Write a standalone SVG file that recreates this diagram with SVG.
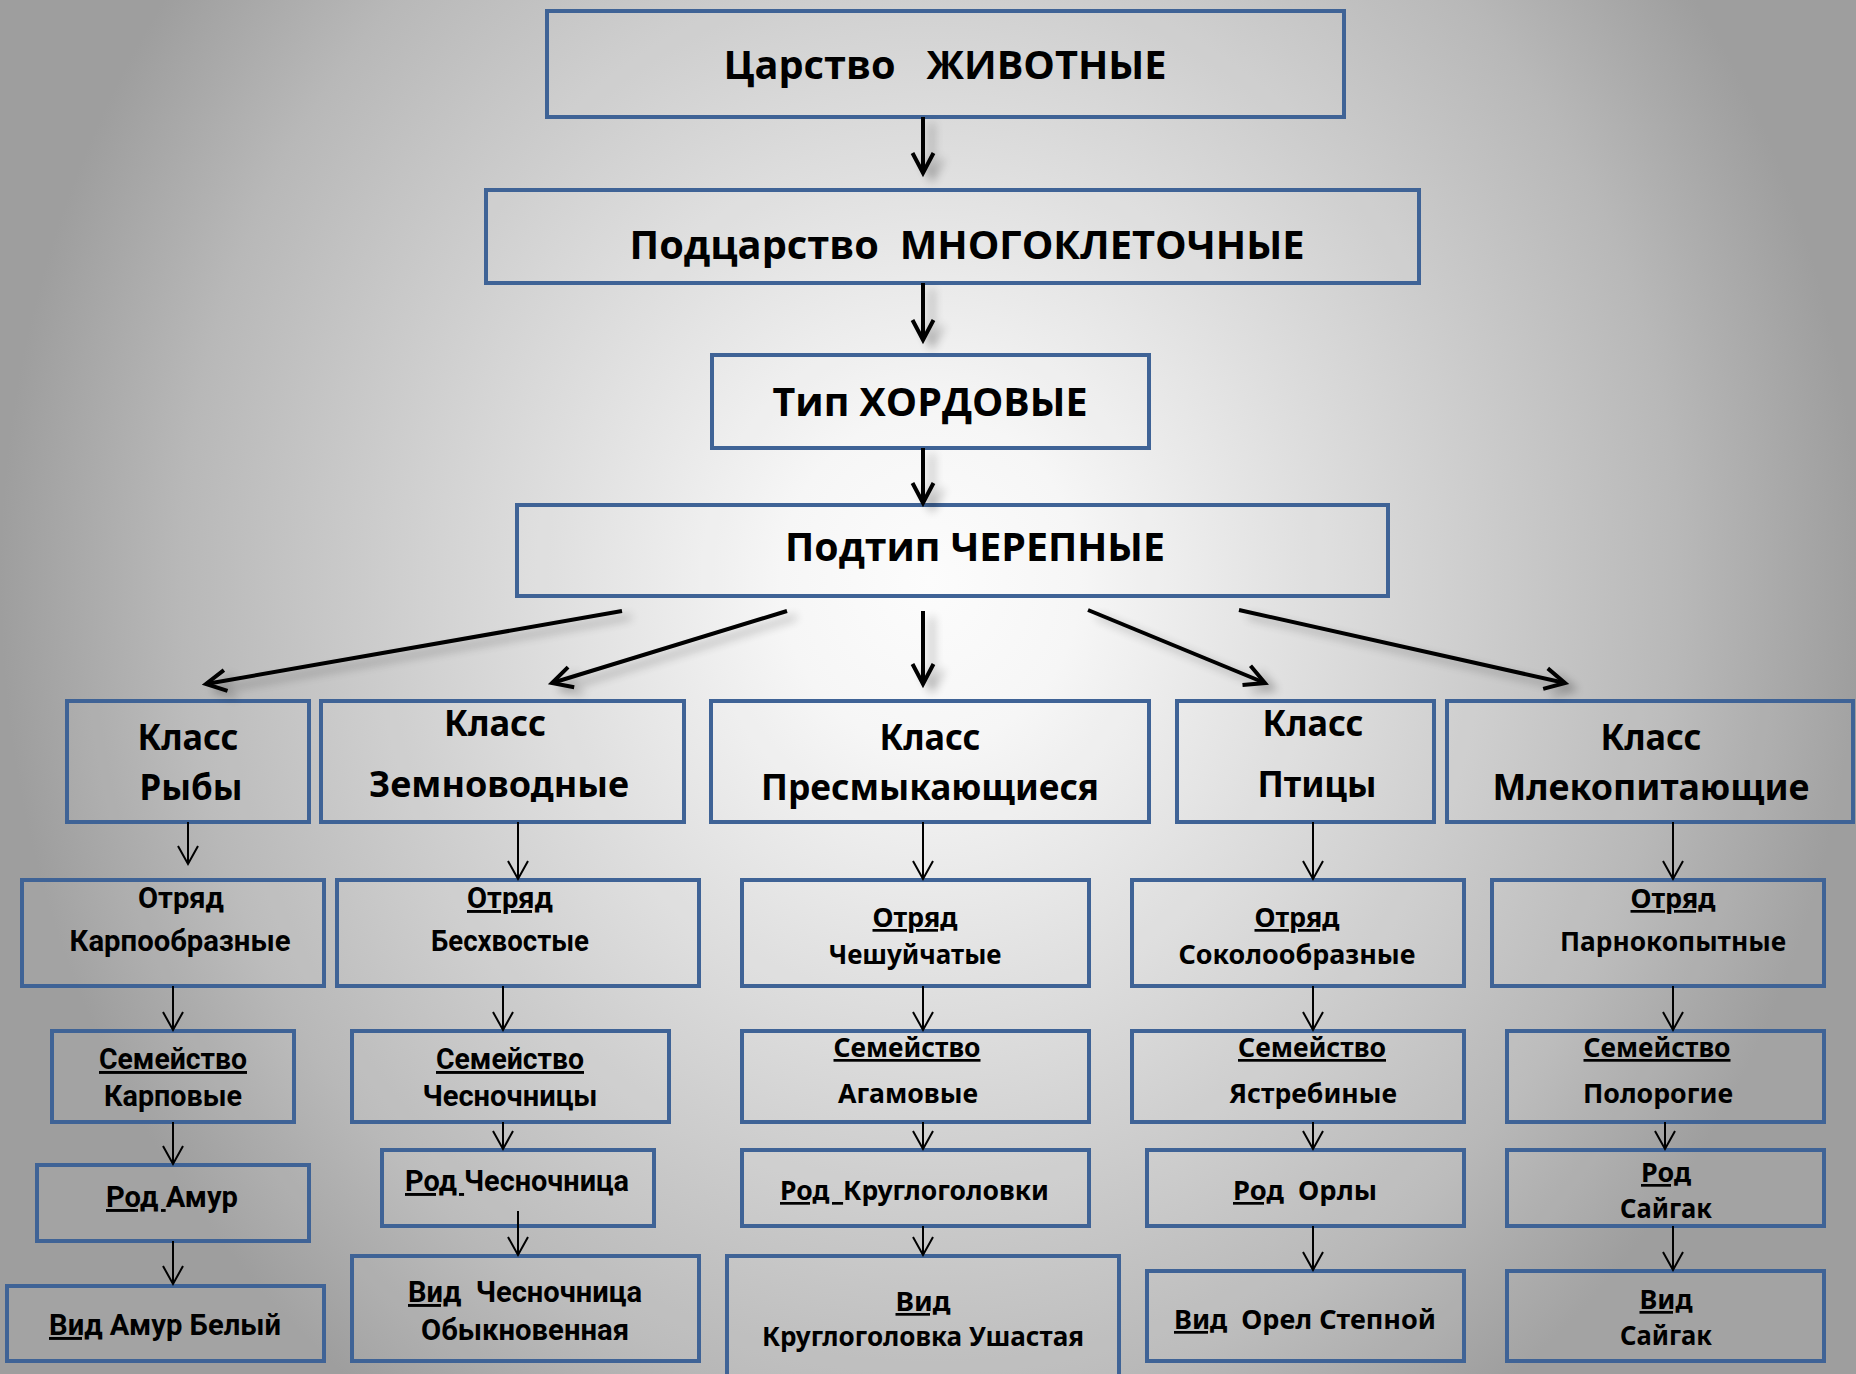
<svg xmlns="http://www.w3.org/2000/svg" width="1856" height="1374" viewBox="0 0 1856 1374">
<defs>
<radialGradient id="bg" gradientUnits="userSpaceOnUse" cx="930" cy="580" r="1000" gradientTransform="translate(930 580) scale(1 1.1) translate(-930 -580)">
<stop offset="0" stop-color="#fcfcfc"/>
<stop offset="0.15" stop-color="#f6f6f6"/>
<stop offset="0.5" stop-color="#d2d2d2"/>
<stop offset="0.75" stop-color="#b8b8b8"/>
<stop offset="0.93" stop-color="#9e9e9e"/>
<stop offset="1" stop-color="#9e9e9e"/>
</radialGradient>
<filter id="sh" filterUnits="userSpaceOnUse" x="0" y="0" width="1856" height="1374">
<feGaussianBlur in="SourceAlpha" stdDeviation="5"/>
<feOffset dx="9" dy="6"/>
<feComponentTransfer><feFuncA type="linear" slope="0.3"/></feComponentTransfer>
<feMerge><feMergeNode/><feMergeNode in="SourceGraphic"/></feMerge>
</filter>
<marker id="ahb" markerUnits="userSpaceOnUse" viewBox="-26 -16 32 32" refX="0" refY="0" markerWidth="32" markerHeight="32" orient="auto" overflow="visible">
<path d="M-20,-10.5 L0,0 L-20,10.5" fill="none" stroke="#000" stroke-width="4"/>
</marker>
<marker id="aht" markerUnits="userSpaceOnUse" viewBox="-22 -14 28 28" refX="0" refY="0" markerWidth="28" markerHeight="28" orient="auto" overflow="visible">
<path d="M-18,-10 L0,0 L-18,10" fill="none" stroke="#000" stroke-width="2"/>
</marker>
</defs>
<style>
.box{fill:#ffffff;fill-opacity:0.06;stroke:#3f6396;stroke-width:4}
text{fill:#000;text-anchor:middle;font-weight:700}
.t1{font-family:"Open Sans","Noto Sans",sans-serif;font-size:39px}
.t2{font-family:"Noto Sans","DejaVu Sans",sans-serif;font-size:36px}
.t3{font-family:Roboto,"Open Sans",sans-serif;font-size:29px}
.t4{font-family:"Noto Sans","DejaVu Sans",sans-serif;font-size:27px}
.s{text-anchor:start}
.u{text-decoration:underline}
.thick{fill:none;stroke:#000;stroke-width:4;marker-end:url(#ahb)}
.thin{fill:none;stroke:#000;stroke-width:2;marker-end:url(#aht)}
</style>
<rect x="0" y="0" width="1856" height="1374" fill="url(#bg)"/>

<g id="kingdom"><rect class="box" x="547" y="11" width="797" height="106"/>
<text class="t1" x="945" y="79" textLength="443" lengthAdjust="spacingAndGlyphs" xml:space="preserve">Царство   ЖИВОТНЫЕ</text></g>
<g id="subkingdom"><rect class="box" x="486" y="190" width="933" height="93"/>
<text class="t1" x="967" y="259" textLength="675" lengthAdjust="spacingAndGlyphs" xml:space="preserve">Подцарство  МНОГОКЛЕТОЧНЫЕ</text></g>
<g id="phylum"><rect class="box" x="712" y="355" width="437" height="93"/>
<text class="t1" x="930" y="416" textLength="315" lengthAdjust="spacingAndGlyphs">Тип ХОРДОВЫЕ</text></g>
<g id="subphylum"><rect class="box" x="517" y="505" width="871" height="91"/>
<text class="t1" x="975" y="561" textLength="380" lengthAdjust="spacingAndGlyphs">Подтип ЧЕРЕПНЫЕ</text></g>

<g id="class-fish"><rect class="box" x="67" y="701" width="242" height="121"/>
<text class="t2" x="188" y="750" textLength="101" lengthAdjust="spacingAndGlyphs">Класс</text>
<text class="t2" x="191" y="800" textLength="103" lengthAdjust="spacingAndGlyphs">Рыбы</text></g>
<g id="class-amphibians"><rect class="box" x="321" y="701" width="363" height="121"/>
<text class="t2" x="495" y="736" textLength="102" lengthAdjust="spacingAndGlyphs">Класс</text>
<text class="t2" x="499" y="797" textLength="260" lengthAdjust="spacingAndGlyphs">Земноводные</text></g>
<g id="class-reptiles"><rect class="box" x="711" y="701" width="438" height="121"/>
<text class="t2" x="930" y="750" textLength="101" lengthAdjust="spacingAndGlyphs">Класс</text>
<text class="t2" x="930" y="800" textLength="338" lengthAdjust="spacingAndGlyphs">Пресмыкающиеся</text></g>
<g id="class-birds"><rect class="box" x="1177" y="701" width="257" height="121"/>
<text class="t2" x="1313" y="736" textLength="101" lengthAdjust="spacingAndGlyphs">Класс</text>
<text class="t2" x="1317" y="797" textLength="119" lengthAdjust="spacingAndGlyphs">Птицы</text></g>
<g id="class-mammals"><rect class="box" x="1447" y="701" width="406" height="121"/>
<text class="t2" x="1651" y="750" textLength="101" lengthAdjust="spacingAndGlyphs">Класс</text>
<text class="t2" x="1651" y="800" textLength="317" lengthAdjust="spacingAndGlyphs">Млекопитающие</text></g>

<g id="order-fish"><rect class="box" x="22" y="880" width="302" height="106"/>
<text class="t3" x="181" y="908" textLength="86" lengthAdjust="spacingAndGlyphs">Отряд</text>
<text class="t3" x="180" y="951" textLength="221" lengthAdjust="spacingAndGlyphs">Карпообразные</text></g>
<g id="order-amphibians"><rect class="box" x="337" y="880" width="362" height="106"/>
<text class="t3" x="510" y="908" textLength="86" lengthAdjust="spacingAndGlyphs"><tspan class="u">Отряд</tspan></text>
<text class="t3" x="510" y="951" textLength="158" lengthAdjust="spacingAndGlyphs">Бесхвостые</text></g>
<g id="order-reptiles"><rect class="box" x="742" y="880" width="347" height="106"/>
<text class="t4" x="915" y="927" textLength="85" lengthAdjust="spacingAndGlyphs"><tspan class="u">Отряд</tspan></text>
<text class="t4" x="915" y="964" textLength="173" lengthAdjust="spacingAndGlyphs">Чешуйчатые</text></g>
<g id="order-birds"><rect class="box" x="1132" y="880" width="332" height="106"/>
<text class="t4" x="1297" y="927" textLength="85" lengthAdjust="spacingAndGlyphs"><tspan class="u">Отряд</tspan></text>
<text class="t4" x="1297" y="964" textLength="237" lengthAdjust="spacingAndGlyphs">Соколообразные</text></g>
<g id="order-mammals"><rect class="box" x="1492" y="880" width="332" height="106"/>
<text class="t4" x="1673" y="908" textLength="85" lengthAdjust="spacingAndGlyphs"><tspan class="u">Отряд</tspan></text>
<text class="t4" x="1673" y="951" textLength="226" lengthAdjust="spacingAndGlyphs">Парнокопытные</text></g>

<g id="family-fish"><rect class="box" x="52" y="1031" width="242" height="91"/>
<text class="t3" x="173" y="1069" textLength="148" lengthAdjust="spacingAndGlyphs"><tspan class="u">Семейство</tspan></text>
<text class="t3" x="173" y="1106" textLength="138" lengthAdjust="spacingAndGlyphs">Карповые</text></g>
<g id="family-amphibians"><rect class="box" x="352" y="1031" width="317" height="91"/>
<text class="t3" x="510" y="1069" textLength="148" lengthAdjust="spacingAndGlyphs"><tspan class="u">Семейство</tspan></text>
<text class="t3" x="510" y="1106" textLength="175" lengthAdjust="spacingAndGlyphs">Чесночницы</text></g>
<g id="family-reptiles"><rect class="box" x="742" y="1031" width="347" height="91"/>
<text class="t4" x="907" y="1057" textLength="147" lengthAdjust="spacingAndGlyphs"><tspan class="u">Семейство</tspan></text>
<text class="t4" x="908" y="1103" textLength="140" lengthAdjust="spacingAndGlyphs">Агамовые</text></g>
<g id="family-birds"><rect class="box" x="1132" y="1031" width="332" height="91"/>
<text class="t4" x="1312" y="1057" textLength="148" lengthAdjust="spacingAndGlyphs"><tspan class="u">Семейство</tspan></text>
<text class="t4" x="1313" y="1103" textLength="168" lengthAdjust="spacingAndGlyphs">Ястребиные</text></g>
<g id="family-mammals"><rect class="box" x="1507" y="1031" width="317" height="91"/>
<text class="t4" x="1657" y="1057" textLength="147" lengthAdjust="spacingAndGlyphs"><tspan class="u">Семейство</tspan></text>
<text class="t4" x="1658" y="1103" textLength="150" lengthAdjust="spacingAndGlyphs">Полорогие</text></g>

<g id="genus-fish"><rect class="box" x="37" y="1165" width="272" height="76"/>
<text class="t3 s" x="106" y="1207" textLength="132" lengthAdjust="spacingAndGlyphs" xml:space="preserve"><tspan class="u">Род </tspan>Амур</text></g>
<g id="genus-amphibians"><rect class="box" x="382" y="1150" width="272" height="76"/>
<text class="t3 s" x="405" y="1191" textLength="224" lengthAdjust="spacingAndGlyphs" xml:space="preserve"><tspan class="u">Род </tspan>Чесночница</text></g>
<g id="genus-reptiles"><rect class="box" x="742" y="1150" width="347" height="76"/>
<text class="t4 s" x="780" y="1200" textLength="269" lengthAdjust="spacingAndGlyphs" xml:space="preserve"><tspan class="u">Род  </tspan>Круглоголовки</text></g>
<g id="genus-birds"><rect class="box" x="1147" y="1150" width="317" height="76"/>
<text class="t4 s" x="1233" y="1200" textLength="144" lengthAdjust="spacingAndGlyphs" xml:space="preserve"><tspan class="u">Род</tspan>  Орлы</text></g>
<g id="genus-mammals"><rect class="box" x="1507" y="1150" width="317" height="76"/>
<text class="t4" x="1666" y="1182" textLength="50" lengthAdjust="spacingAndGlyphs"><tspan class="u">Род</tspan></text>
<text class="t4" x="1666" y="1218" textLength="92" lengthAdjust="spacingAndGlyphs">Сайгак</text></g>

<g id="species-fish"><rect class="box" x="7" y="1286" width="317" height="75"/>
<text class="t3 s" x="49" y="1335" textLength="232" lengthAdjust="spacingAndGlyphs" xml:space="preserve"><tspan class="u">Вид</tspan> Амур Белый</text></g>
<g id="species-amphibians"><rect class="box" x="352" y="1256" width="347" height="105"/>
<text class="t3 s" x="408" y="1302" textLength="234" lengthAdjust="spacingAndGlyphs" xml:space="preserve"><tspan class="u">Вид</tspan>  Чесночница</text>
<text class="t3" x="525" y="1340" textLength="208" lengthAdjust="spacingAndGlyphs">Обыкновенная</text></g>
<g id="species-reptiles"><rect class="box" x="727" y="1256" width="392" height="140"/>
<text class="t4" x="923" y="1311" textLength="55" lengthAdjust="spacingAndGlyphs"><tspan class="u">Вид</tspan></text>
<text class="t4" x="923" y="1346" textLength="322" lengthAdjust="spacingAndGlyphs">Круглоголовка Ушастая</text></g>
<g id="species-birds"><rect class="box" x="1147" y="1271" width="317" height="90"/>
<text class="t4 s" x="1174" y="1329" textLength="262" lengthAdjust="spacingAndGlyphs" xml:space="preserve"><tspan class="u">Вид</tspan>  Орел Степной</text></g>
<g id="species-mammals"><rect class="box" x="1507" y="1271" width="317" height="90"/>
<text class="t4" x="1666" y="1309" textLength="53" lengthAdjust="spacingAndGlyphs"><tspan class="u">Вид</tspan></text>
<text class="t4" x="1666" y="1345" textLength="92" lengthAdjust="spacingAndGlyphs">Сайгак</text></g>

<g id="connectors">
<g filter="url(#sh)">
<path class="thick" d="M923,117 L923,173"/>
<path class="thick" d="M923,283 L923,340"/>
<path class="thick" d="M923,448 L923,503"/>
<path class="thick" d="M622,611 L206,684"/>
<path class="thick" d="M787,611 L552,683"/>
<path class="thick" d="M923,611 L923,684"/>
<path class="thick" d="M1088,610 L1265,683"/>
<path class="thick" d="M1239,610 L1565,683"/>
</g>
<g>
<path class="thin" d="M188,822 L188,864"/>
<path class="thin" d="M173,986 L173,1030"/>
<path class="thin" d="M173,1122 L173,1164"/>
<path class="thin" d="M173,1241 L173,1284"/>
<path class="thin" d="M518,822 L518,879"/>
<path class="thin" d="M503,986 L503,1030"/>
<path class="thin" d="M503,1122 L503,1149"/>
<path class="thin" d="M518,1211 L518,1255"/>
<path class="thin" d="M923,822 L923,879"/>
<path class="thin" d="M923,986 L923,1030"/>
<path class="thin" d="M923,1122 L923,1149"/>
<path class="thin" d="M923,1226 L923,1255"/>
<path class="thin" d="M1313,822 L1313,879"/>
<path class="thin" d="M1313,986 L1313,1030"/>
<path class="thin" d="M1313,1122 L1313,1149"/>
<path class="thin" d="M1313,1226 L1313,1270"/>
<path class="thin" d="M1673,822 L1673,879"/>
<path class="thin" d="M1673,986 L1673,1030"/>
<path class="thin" d="M1665,1122 L1665,1149"/>
<path class="thin" d="M1673,1226 L1673,1270"/>
</g>
</g>
</svg>
